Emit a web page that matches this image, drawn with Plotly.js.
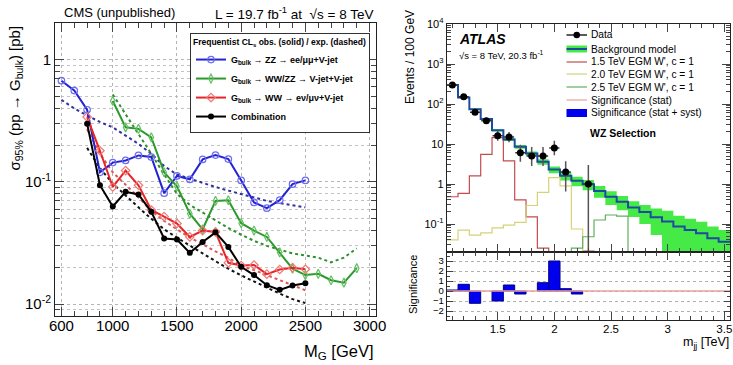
<!DOCTYPE html>
<html><head><meta charset="utf-8">
<script src="https://cdn.plot.ly/plotly-3.0.1.min.js"></script>
<style>html,body{margin:0;padding:0;background:#fff}#c{width:733px;height:365px}</style>
</head><body><div id="c"></div>
<script>
// ---------------- Left panel (CMS) data ----------------
const massZZ = [600,700,800,900,1000,1100,1200,1300,1400,1500,1600,1700,1800,1900,2000,2100,2200,2300,2400,2500];
const zzObs  = [0.674,0.56,0.39,0.12,0.144,0.15,0.165,0.16,0.081,0.112,0.105,0.153,0.166,0.154,0.103,0.068,0.061,0.071,0.096,0.103];
const zzExp  = [0.47,0.40,0.35,0.31,0.28,0.24,0.205,0.17,0.135,0.115,0.106,0.098,0.091,0.085,0.080,0.075,0.070,0.067,0.064,0.062];
const massVV = [1000,1100,1200,1300,1400,1500,1600,1700,1800,1900,2000,2100,2200,2300,2400,2500,2600,2700,2800,2900];
const vvObs  = [0.46,0.28,0.272,0.232,0.12,0.092,0.055,0.041,0.070,0.0708,0.046,0.040,0.0355,0.0265,0.0195,0.0173,0.0177,0.0157,0.015,0.0197];
const vvExp  = [0.52,0.36,0.25,0.17,0.115,0.08,0.065,0.056,0.048,0.042,0.037,0.033,0.030,0.028,0.026,0.025,0.024,0.022,0.024,0.0286];
const massWW = [800,900,1000,1100,1200,1300,1400,1500,1600,1700,1800,1900,2000,2100,2200,2300,2400,2500];
const wwObs  = [0.34,0.18,0.091,0.124,0.094,0.059,0.052,0.0457,0.0355,0.040,0.039,0.0218,0.0207,0.0209,0.0176,0.0192,0.0199,0.0193];
const wwExp  = [0.27,0.17,0.12,0.095,0.075,0.058,0.048,0.041,0.035,0.031,0.027,0.024,0.0205,0.019,0.0172,0.0157,0.0143,0.013];
const massComb = [800,900,1000,1100,1200,1300,1400,1500,1600,1700,1800,1900,2000,2100,2200,2300,2400,2500];
const combObs  = [0.30,0.094,0.063,0.083,0.079,0.057,0.0345,0.0338,0.0263,0.0323,0.0387,0.0294,0.0202,0.0173,0.0143,0.0131,0.0142,0.0148];
const combExp  = [0.19,0.13,0.097,0.077,0.062,0.05,0.041,0.035,0.03,0.026,0.0225,0.0195,0.0172,0.0153,0.0135,0.0122,0.011,0.0102];
const leftXTicks = [600,1000,1500,2000,2500,3000];
const leftYTicks = [0.01,0.1,1];
const leftYTickText = ['10<sup>-2</sup>','10<sup>-1</sup>','1'];

// ---------------- Right panel (ATLAS) data ----------------
const binCenters = [1.1,1.2,1.3,1.4,1.5,1.6,1.7,1.8,1.9,2.0,2.1,2.2,2.3,2.4,2.5,2.6,2.7,2.8,2.9,3.0,3.1,3.2,3.3,3.4,3.5];
const bkgModel = [300,145,74,42,22,13,8.5,5.8,3.6,2.3,1.6,1.2,0.98,0.67,0.48,0.36,0.26,0.2,0.148,0.115,0.086,0.071,0.059,0.044,0.036];
const bkgUnc   = [10,5,3,2,1.5,1.2,0.9,0.7,0.55,0.45,0.38,0.32,0.28,0.22,0.18,0.14,0.11,0.1,0.095,0.1,0.075,0.065,0.055,0.042,0.035];
const sigW15 = [0.48,0.58,1.6,5.5,14.5,3.8,0.4,0.15,0.025,0.018,0.013,0.011,0.021,0.006,0.004,0.003,0.002,0.002,0.001,0.001,0.001,0.001,0.001,0.001,0.001];
const sigW20 = [0.04,0.07,0.053,0.06,0.08,0.094,0.11,0.29,0.62,1.45,0.9,0.075,0.018,0.006,0.003,0.002,0.001,0.001,0.001,0.001,0.001,0.001,0.001,0.001,0.001];
const sigW25 = [0.001,0.001,0.001,0.001,0.001,0.001,0.001,0.001,0.001,0.002,0.008,0.025,0.048,0.126,0.168,0.158,0.008,0.004,0.002,0.001,0.001,0.001,0.001,0.001,0.001];
const dataX = [1.1,1.2,1.3,1.4,1.5,1.6,1.7,1.8,1.9,2.0,2.1,2.3];
const dataY = [300,152,62,38,16,15,6,5,5,8,2,1];
const dataErrUp   = [17,12.5,8.9,7.2,5,4.9,3.6,3.4,3.4,4,1.7,2.0];
const dataErrDown = [17,12.5,7.9,6.2,4,3.9,2.4,2.2,2.2,2.8,1.35,0.999];
const significance = [0.1,0.67,-1.23,0,-1.0,0.6,-0.3,0,0.83,3.0,0.23,-0.3,0,0,0,0,0,0,0,0,0,0,0,0,0];
const sigStatLine  = [0,0,0,0,0,0,0,0,0,0,0,0,0,0,0,0,0,0,0,0,0,0,0,0,0];
const rightYTicks = [0.1,1,10,100,1000,10000];
const rightYTickText = ['10<sup>-1</sup>','1','10','10<sup>2</sup>','10<sup>3</sup>','10<sup>4</sup>'];
const sigTicks = [-2,-1,0,1,2,3];
const mjjTicks = [1.5,2,2.5,3,3.5];
const mjjTickText = ['1.5','2','2.5','3','3.5'];

// ---------------- helpers ----------------
const W = 733, H = 365;
const px = x => x / W;
const py = y => 1 - y / H;
function logMinors(lo, hi) {
  const out = [];
  for (let d = Math.floor(Math.log10(lo)); d <= Math.ceil(Math.log10(hi)); d++) {
    for (let k = 2; k <= 9; k++) { const v = k * Math.pow(10, d); if (v >= lo * 0.999 && v <= hi * 1.001) out.push(v); }
  }
  return out;
}
function stepXY(centers, vals) {
  const half = (centers[1] - centers[0]) / 2;
  const xs = [], ys = [];
  centers.forEach((c, i) => { xs.push(c - half, c + half); ys.push(vals[i], vals[i]); });
  return {x: xs, y: ys};
}
const FONT = 'Liberation Sans, Arial, Helvetica, sans-serif';

// ---------------- traces ----------------
const traces = [];
const cBlue = '#2323d2', cGreen = '#2c992c', cRed = '#e62626';
function expTrace(x, y, color) {
  return {x, y, xaxis: 'x', yaxis: 'y', mode: 'lines', showlegend: false, hoverinfo: 'skip',
          line: {color, width: 2, dash: 'dot'}};
}
traces.push(expTrace(massZZ, zzExp, '#3131a0'));
traces.push(expTrace(massVV, vvExp, '#2e8f2e'));
traces.push(expTrace(massWW, wwExp, '#e05555'));
traces.push(expTrace(massComb, combExp, '#111111'));
traces.push({x: massZZ, y: zzObs, xaxis: 'x', yaxis: 'y', mode: 'lines+markers', legend: 'legend', legendrank: 1,
  name: 'G<sub>bulk</sub> → ZZ → ee/μμ+V-jet', line: {color: cBlue, width: 2},
  marker: {symbol: 'circle-open', size: 6.5, color: '#6c6cf2', line: {width: 1.2}}});
traces.push({x: massVV, y: vvObs, xaxis: 'x', yaxis: 'y', mode: 'lines+markers', legend: 'legend', legendrank: 2,
  name: 'G<sub>bulk</sub> → WW/ZZ → V-jet+V-jet', line: {color: cGreen, width: 2},
  marker: {symbol: 'diamond-tall-open', size: 6.5, color: '#62bf62', line: {width: 1.2}}});
traces.push({x: massWW, y: wwObs, xaxis: 'x', yaxis: 'y', mode: 'lines+markers', legend: 'legend', legendrank: 3,
  name: 'G<sub>bulk</sub> → WW → eν/μν+V-jet', line: {color: cRed, width: 2},
  marker: {symbol: 'diamond-open', size: 6.5, color: '#f07878', line: {width: 1.2}}});
traces.push({x: massComb, y: combObs, xaxis: 'x', yaxis: 'y', mode: 'lines+markers', legend: 'legend', legendrank: 4,
  name: 'Combination', line: {color: '#000', width: 2},
  marker: {symbol: 'circle', size: 6, color: '#000'}});

// right top
const bandLow = stepXY(binCenters, bkgModel.map((v, i) => Math.max(v - bkgUnc[i], 1e-4)));
const bandHigh = stepXY(binCenters, bkgModel.map((v, i) => v + bkgUnc[i]));
traces.push({x: bandLow.x, y: bandLow.y, xaxis: 'x2', yaxis: 'y2', mode: 'lines', line: {width: 0}, showlegend: false, hoverinfo: 'skip'});
traces.push({x: bandHigh.x, y: bandHigh.y, xaxis: 'x2', yaxis: 'y2', mode: 'lines', line: {width: 0}, fill: 'tonexty',
  fillcolor: '#46ea46', showlegend: false, hoverinfo: 'skip'});
const s15 = stepXY(binCenters, sigW15), s20 = stepXY(binCenters, sigW20), s25 = stepXY(binCenters, sigW25);
traces.push({x: s15.x, y: s15.y, xaxis: 'x2', yaxis: 'y2', mode: 'lines', line: {color: '#c24c4c', width: 1.2}, showlegend: false});
traces.push({x: s20.x, y: s20.y, xaxis: 'x2', yaxis: 'y2', mode: 'lines', line: {color: '#d6d278', width: 1.2}, showlegend: false});
traces.push({x: s25.x, y: s25.y, xaxis: 'x2', yaxis: 'y2', mode: 'lines', line: {color: '#5fae5f', width: 1.2}, showlegend: false});
const bk = stepXY(binCenters, bkgModel);
traces.push({x: bk.x, y: bk.y, xaxis: 'x2', yaxis: 'y2', mode: 'lines', line: {color: '#1d4c9e', width: 2}, showlegend: false});
traces.push({x: dataX, y: dataY, xaxis: 'x2', yaxis: 'y2', mode: 'markers', showlegend: false,
  marker: {symbol: 'circle', size: 7, color: '#000'},
  error_y: {type: 'data', array: dataErrUp, arrayminus: dataErrDown, symmetric: false, color: '#555', thickness: 1.5, width: 0},
  error_x: {type: 'constant', value: 0.045, color: '#333', thickness: 1.5, width: 0}});

// right bottom
const ss = stepXY(binCenters, sigStatLine);
traces.push({x: ss.x, y: ss.y, xaxis: 'x3', yaxis: 'y3', mode: 'lines', line: {color: '#eaa0a0', width: 1.3}, showlegend: false});
const barX = [], barY = [];
binCenters.forEach((c, i) => { if (significance[i] !== 0) { barX.push(c); barY.push(significance[i]); } });
traces.push({type: 'bar', x: barX, y: barY, base: 0, width: 0.1, xaxis: 'x3', yaxis: 'y3', showlegend: false,
  marker: {color: '#0000ee', line: {color: '#00008a', width: 1}}});

// ---------------- layout ----------------
const frame = {showline: true, linecolor: '#222', linewidth: 1, mirror: 'allticks', ticks: 'inside', zeroline: false};
const layout = {
  width: W, height: H, margin: {l: 0, r: 0, t: 0, b: 0},
  paper_bgcolor: '#fff', plot_bgcolor: '#fff', font: {family: FONT, color: '#000'},
  showlegend: true,
  xaxis: Object.assign({}, frame, {domain: [px(55), px(376)], range: [550, 3050], anchor: 'y',
    tickmode: 'array', tickvals: leftXTicks, ticklen: 9, tickfont: {size: 15}, ticklabelstandoff: -4,
    showgrid: true, gridcolor: '#b5b5b5', griddash: 'dot', gridwidth: 1,
    minor: {tickmode: 'linear', tick0: 600, dtick: 100, ticks: 'inside', ticklen: 5, showgrid: false}}),
  yaxis: Object.assign({}, frame, {domain: [py(316), py(23)], type: 'log', range: [Math.log10(0.008), Math.log10(2)], anchor: 'x',
    tickmode: 'array', tickvals: leftYTicks, ticktext: leftYTickText, ticklen: 9, tickfont: {size: 15},
    showgrid: true, gridcolor: '#b5b5b5', griddash: 'dot', gridwidth: 1,
    minor: {tickmode: 'array', tickvals: logMinors(0.008, 2), ticks: 'inside', ticklen: 5, showgrid: true, gridcolor: '#c2c2c2', griddash: 'dot'}}),
  xaxis2: Object.assign({}, frame, {domain: [px(446.7), px(730)], range: [1.05, 3.55], anchor: 'y2',
    tickmode: 'array', tickvals: mjjTicks, showticklabels: false, ticklen: 8, showgrid: false,
    minor: {tickmode: 'linear', tick0: 1.1, dtick: 0.1, ticks: 'inside', ticklen: 4}}),
  yaxis2: Object.assign({}, frame, {domain: [py(252), py(24)], type: 'log', range: [-1.7, 4], anchor: 'x2',
    tickmode: 'array', tickvals: rightYTicks, ticktext: rightYTickText, ticklen: 8, tickfont: {size: 11}, showgrid: false,
    minor: {tickmode: 'array', tickvals: logMinors(0.02, 10000), ticks: 'inside', ticklen: 4}}),
  xaxis3: Object.assign({}, frame, {domain: [px(446.7), px(730)], range: [1.05, 3.55], anchor: 'y3',
    tickmode: 'array', tickvals: mjjTicks, ticktext: mjjTickText, ticklen: 8, tickfont: {size: 11.5}, showgrid: false,
    ticklabelstandoff: -2,
    minor: {tickmode: 'linear', tick0: 1.1, dtick: 0.1, ticks: 'inside', ticklen: 4}}),
  yaxis3: Object.assign({}, frame, {domain: [py(320), py(252)], range: [-2.9, 3.9], anchor: 'x3',
    tickmode: 'array', tickvals: sigTicks, ticklen: 6, tickfont: {size: 9.5},
    showgrid: true, gridcolor: '#b0b0b0', griddash: 'dot', gridwidth: 1,
    minor: {tickmode: 'linear', tick0: 0, dtick: 0.5, ticks: 'inside', ticklen: 3}}),
  legend: {x: px(190), y: py(33), xanchor: 'left', yanchor: 'top', bgcolor: '#fff', bordercolor: '#333', borderwidth: 1,
    font: {size: 9, family: FONT, weight: 'bold'}, itemwidth: 30, traceorder: 'normal',
    title: {text: 'Frequentist CL<sub>s</sub> obs. (solid) / exp. (dashed)', font: {size: 8.5, family: FONT, weight: 'bold'}}},
  annotations: [],
  shapes: []
};
const A = (text, x, y, opts) => layout.annotations.push(Object.assign({text, x: px(x), y: py(y), xref: 'paper', yref: 'paper',
  showarrow: false, xanchor: 'left', yanchor: 'middle', font: {family: FONT, size: 12, color: '#000'}}, opts || {}));
// left texts
A('CMS (unpublished)', 62, 13, {font: {family: FONT, size: 13}});
A('L = 19.7 fb<sup>-1</sup> at  √s = 8 TeV', 213, 13, {font: {family: FONT, size: 13.5}});
A('σ<sub>95%</sub> (pp → G<sub>bulk</sub>) [pb]', 15, 24, {textangle: -90, xanchor: 'center', yanchor: 'top', font: {family: FONT, size: 15}});
A('M<sub>G</sub> [GeV]', 376, 352, {xanchor: 'right', font: {family: FONT, size: 16.5}});
// right texts
A('Events / 100 GeV', 410, 8, {textangle: -90, xanchor: 'center', yanchor: 'top', font: {family: FONT, size: 12}});
A('Significance', 413, 285, {textangle: -90, xanchor: 'center', yanchor: 'middle', font: {family: FONT, size: 11}});
A('m<sub>jj</sub> [TeV]', 731, 343, {xanchor: 'right', font: {family: FONT, size: 12.5}});
A('<b><i>ATLAS</i></b>', 457, 39, {font: {family: FONT, size: 14}});
A('√s = 8 TeV, 20.3 fb<sup>-1</sup>', 457, 55, {font: {family: FONT, size: 9.5}});
A('<b>WZ Selection</b>', 623, 133, {xanchor: 'center', font: {family: FONT, size: 10.5}});
// right manual legend
const legRows = [
  ['Data', 35], ['Background model', 49], ['1.5 TeV EGM W\', c = 1', 62], ['2.0 TeV EGM W\', c = 1', 74],
  ['2.5 TeV EGM W\', c = 1', 87], ['Significance (stat)', 100], ['Significance (stat + syst)', 113]];
legRows.forEach(r => A(r[0], 589, r[1], {font: {family: FONT, size: 10.2}}));
const S = s => layout.shapes.push(Object.assign({xref: 'paper', yref: 'paper'}, s));
const lx0 = 566.5, lx1 = 587;
S({type: 'line', x0: px(lx0), x1: px(lx1), y0: py(35), y1: py(35), line: {color: '#000', width: 1.3}});
S({type: 'circle', x0: px(573.5), x1: px(580), y0: py(31.8), y1: py(38.2), fillcolor: '#000', line: {color: '#000', width: 0}});
S({type: 'rect', x0: px(lx0), x1: px(lx1), y0: py(45.5), y1: py(52.5), fillcolor: '#46ea46', line: {width: 0}});
S({type: 'line', x0: px(lx0), x1: px(lx1), y0: py(49), y1: py(49), line: {color: '#1d4c9e', width: 2}});
S({type: 'line', x0: px(lx0), x1: px(lx1), y0: py(62), y1: py(62), line: {color: '#c24c4c', width: 1.2}});
S({type: 'line', x0: px(lx0), x1: px(lx1), y0: py(74), y1: py(74), line: {color: '#d6d278', width: 1.2}});
S({type: 'line', x0: px(lx0), x1: px(lx1), y0: py(87), y1: py(87), line: {color: '#5fae5f', width: 1.2}});
S({type: 'line', x0: px(lx0), x1: px(lx1), y0: py(100), y1: py(100), line: {color: '#eaa0a0', width: 1.2}});
S({type: 'rect', x0: px(lx0), x1: px(lx1), y0: py(109), y1: py(117), fillcolor: '#0000ee', line: {width: 0}});

Plotly.newPlot('c', traces, layout, {staticPlot: true, displayModeBar: false});
</script></body></html>
